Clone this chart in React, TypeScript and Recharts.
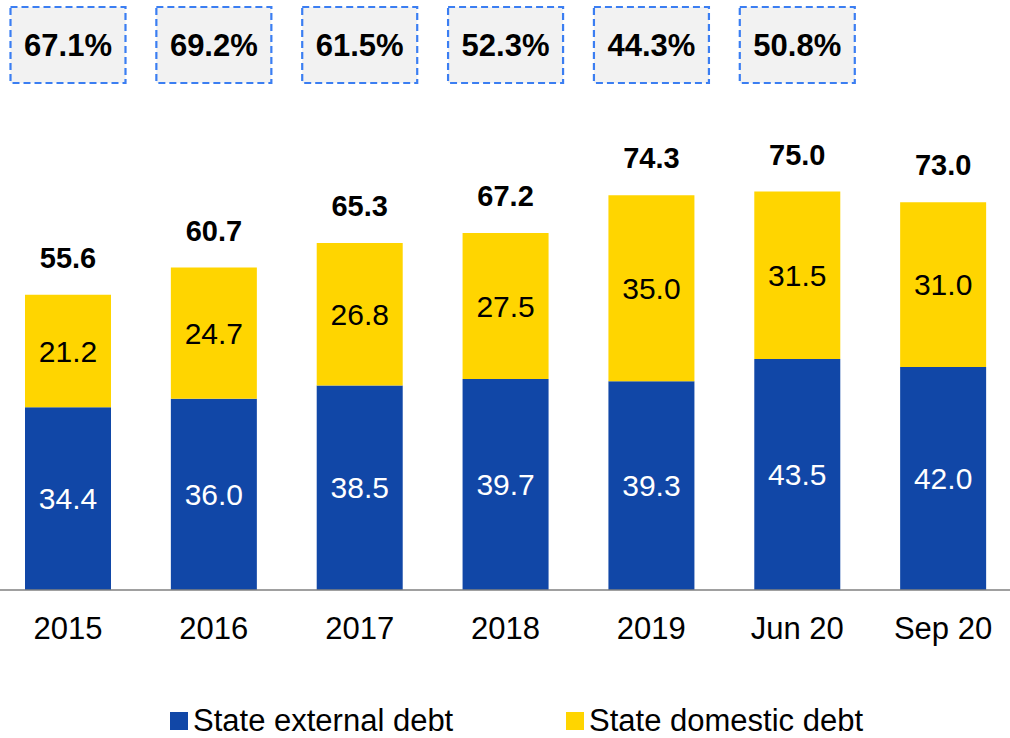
import { BarChart, Bar, XAxis, YAxis, Legend, LabelList } from "recharts";

const periods = ["2015", "2016", "2017", "2018", "2019", "Jun 20", "Sep 20"];
const externalDebt = [34.4, 36.0, 38.5, 39.7, 39.3, 43.5, 42.0];
const domesticDebt = [21.2, 24.7, 26.8, 27.5, 35.0, 31.5, 31.0];
const totalDebt = [55.6, 60.7, 65.3, 67.2, 74.3, 75.0, 73.0];
const debtToGdp: (number | null)[] = [67.1, 69.2, 61.5, 52.3, 44.3, 50.8, null];

const BLUE = "#1147A7";
const YELLOW = "#FFD500";
const FONT = "'Liberation Sans', Arial, sans-serif";

const data = periods.map((p, i) => ({
  period: p,
  external: externalDebt[i],
  domestic: domesticDebt[i],
}));

function TopLabel(props: any) {
  const { x, y, width, index } = props;
  const cx = x + width / 2;
  const ratio = debtToGdp[index];
  return (
    <g>
      <text
        x={cx}
        y={y - 27}
        textAnchor="middle"
        fontFamily={FONT}
        fontWeight="bold"
        fontSize={29}
        fill="#000"
      >
        {totalDebt[index].toFixed(1)}
      </text>
      {ratio != null && (
        <g>
          <rect
            x={cx - 57.5}
            y={7}
            width={115}
            height={76}
            fill="#f2f2f2"
            stroke="#3b7ef2"
            strokeWidth={2.2}
            strokeDasharray="7 4"
          />
          <text
            x={cx}
            y={56}
            textAnchor="middle"
            fontFamily={FONT}
            fontWeight="bold"
            fontSize={31}
            fill="#000"
          >
            {ratio.toFixed(1)}%
          </text>
        </g>
      )}
    </g>
  );
}

function Tick(props: any) {
  const { x, y, payload } = props;
  return (
    <text x={x} y={y + 49} textAnchor="middle" fontFamily={FONT} fontSize={31} fill="#000">
      {payload.value}
    </text>
  );
}

function LegendContent() {
  const item = (color: string, label: string) => (
    <div style={{ display: "flex", alignItems: "center" }}>
      <span style={{ width: 18, height: 18, background: color, marginRight: 5 }} />
      <span style={{ fontFamily: FONT, fontSize: 31, color: "#000", lineHeight: "32px" }}>
        {label}
      </span>
    </div>
  );
  return (
    <div style={{ height: 78, position: "relative" }}>
      <div style={{ position: "absolute", left: 175, top: 45 }}>
        {item(BLUE, "State external debt")}
      </div>
      <div style={{ position: "absolute", left: 571, top: 45 }}>
        {item(YELLOW, "State domestic debt")}
      </div>
    </div>
  );
}

export default function App() {
  return (
    <div style={{ position: "fixed", inset: 0, overflow: "hidden", background: "#fff" }}>
      <div style={{ position: "absolute", left: -5, top: 0 }}>
        <BarChart
          width={1021}
          height={738}
          data={data}
          margin={{ top: 165, right: 0, left: 0, bottom: 0 }}
          barSize={86}
        >
          <XAxis
            dataKey="period"
            height={70}
            tickLine={false}
            tickSize={0}
            tickMargin={0}
            axisLine={{ stroke: "#808080", strokeWidth: 1.5 }}
            tick={<Tick />}
            interval={0}
          />
          <YAxis hide domain={[0, 80]} />
          <Legend
            verticalAlign="bottom"
            height={78}
            wrapperStyle={{ left: 0, width: 1021, height: 78 }}
            content={<LegendContent />}
          />
          <Bar dataKey="external" stackId="a" fill={BLUE} isAnimationActive={false}>
            <LabelList
              dataKey="external"
              position="center"
              fill="#fff"
              fontSize={30}
              fontFamily={FONT}
              formatter={(v: any) => Number(v).toFixed(1)}
            />
          </Bar>
          <Bar dataKey="domestic" stackId="a" fill={YELLOW} isAnimationActive={false}>
            <LabelList
              dataKey="domestic"
              position="center"
              fill="#000"
              fontSize={30}
              fontFamily={FONT}
              formatter={(v: any) => Number(v).toFixed(1)}
            />
            <LabelList dataKey="domestic" content={<TopLabel />} />
          </Bar>
        </BarChart>
      </div>
    </div>
  );
}
